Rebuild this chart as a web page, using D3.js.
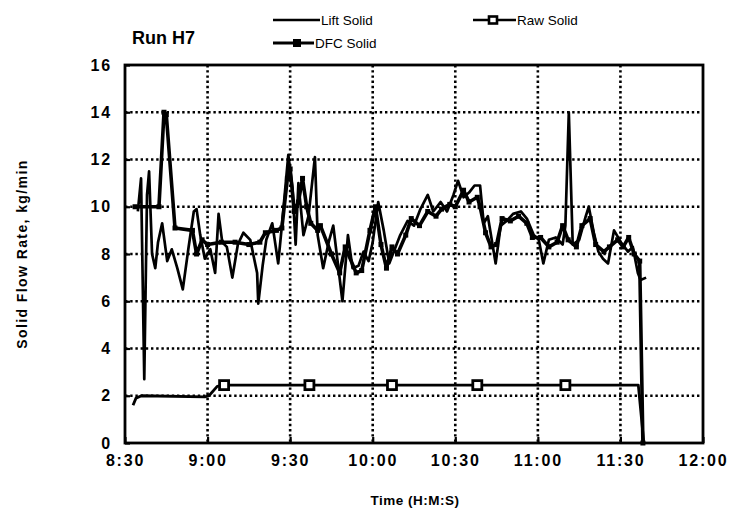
<!DOCTYPE html>
<html>
<head>
<meta charset="utf-8">
<script src="https://cdn.jsdelivr.net/npm/d3@7"></script>
<style>
  body { margin: 0; background: #fff; }
  svg { display: block; }
  .lbl { font-family: "Liberation Sans", Arial, sans-serif; font-weight: bold; }
  .leg { font-family: "Liberation Sans", Arial, sans-serif; font-size: 13.5px; }
</style>
</head>
<body>
<div id="svgBody"></div>
<script>
// time (H:M:S), value (kg/min)
var liftSolid = [
  ["8:34:40",9.8],["8:35:50",11.2],["8:37:00",2.7],["8:38:00",10.5],["8:38:45",11.5],["8:39:50",8.0],
  ["8:41:00",7.4],["8:42:00",8.5],["8:43:30",9.3],["8:45:20",7.7],["8:47:00",8.2],["8:49:00",7.4],
  ["8:51:00",6.5],["8:53:00",8.2],["8:55:00",9.8],["8:56:00",9.9],["8:57:20",8.8],["8:59:00",7.8],
  ["9:01:00",8.2],["9:02:45",7.2],["9:04:00",9.7],["9:05:20",8.5],["9:07:00",8.3],["9:09:00",7.0],
  ["9:11:00",8.4],["9:13:00",8.9],["9:15:30",8.6],["9:18:00",7.2],["9:18:25",5.9],["9:20:00",7.5],
  ["9:21:20",8.6],["9:23:30",9.3],["9:25:40",7.6],["9:27:00",9.2],["9:29:20",12.2],["9:30:50",10.8],
  ["9:32:00",8.4],["9:33:00",11.0],["9:34:50",8.8],["9:36:40",9.6],["9:39:00",12.1],["9:40:00",8.8],
  ["9:42:00",7.4],["9:44:00",8.5],["9:45:40",9.2],["9:49:00",6.0],["9:51:00",8.8],["9:52:40",7.4],
  ["9:54:50",7.5],["9:56:40",8.1],["9:58:30",7.7],["10:00:00",8.5],["10:02:00",10.2],["10:04:00",9.0],
  ["10:06:00",7.6],["10:08:00",8.2],["10:10:00",8.8],["10:12:40",9.4],["10:15:00",9.2],["10:17:20",9.9],
  ["10:20:00",10.5],["10:22:00",9.8],["10:24:40",10.2],["10:27:00",9.8],["10:29:20",10.5],["10:31:00",11.1],
  ["10:33:00",10.4],["10:35:00",10.6],["10:37:00",10.9],["10:39:00",10.9],["10:40:20",9.3],["10:41:50",9.6],
  ["10:44:40",7.6],["10:46:30",9.2],["10:48:40",9.4],["10:51:00",9.7],["10:53:50",9.8],["10:56:00",9.5],
  ["10:58:30",8.8],["11:00:20",8.6],["11:02:00",7.6],["11:04:00",8.6],["11:06:30",8.7],["11:09:00",8.4],
  ["11:10:00",9.2],["11:11:15",14.0],["11:12:40",8.4],["11:15:00",8.6],["11:17:25",9.6],["11:18:30",10.0],
  ["11:20:20",8.9],["11:22:00",8.1],["11:23:40",7.8],["11:25:30",7.6],["11:27:40",9.0],["11:30:10",8.5],
  ["11:32:45",8.1],["11:34:30",8.3],["11:36:20",7.2],["11:37:20",6.9],["11:39:20",7.0]
];

var dfcSolid = [
  ["8:33:40",10.0],["8:42:20",10.0],["8:44:10",14.0],["8:45:00",13.9],["8:48:10",9.1],["8:54:30",9.0],
  ["8:56:00",8.0],["8:58:00",8.6],["9:00:00",8.4],["9:05:00",8.5],["9:10:00",8.5],["9:15:00",8.4],
  ["9:19:00",8.5],["9:21:00",8.9],["9:25:00",9.0],["9:27:00",9.1],["9:29:00",11.2],["9:30:00",11.6],
  ["9:31:30",9.8],["9:33:00",10.2],["9:34:30",11.2],["9:36:00",10.0],["9:37:30",9.3],["9:40:00",9.0],
  ["9:41:00",9.2],["9:45:00",8.0],["9:48:00",7.2],["9:50:00",8.3],["9:54:00",7.2],["9:56:00",7.3],
  ["9:59:00",9.0],["10:01:00",10.0],["10:03:00",8.4],["10:05:00",7.4],["10:07:00",8.3],["10:09:00",8.0],
  ["10:12:00",8.8],["10:14:00",9.5],["10:17:00",9.2],["10:20:00",9.8],["10:23:00",9.6],["10:25:00",9.9],
  ["10:28:00",10.1],["10:30:00",10.0],["10:33:00",10.7],["10:35:00",10.2],["10:38:00",10.4],["10:39:00",10.0],
  ["10:41:00",8.9],["10:43:00",8.3],["10:45:00",8.4],["10:47:00",9.5],["10:50:00",9.4],["10:53:00",9.6],
  ["10:56:00",9.3],["10:58:00",8.7],["11:01:00",8.7],["11:04:00",8.3],["11:07:00",8.5],["11:09:00",9.2],
  ["11:11:00",8.6],["11:14:00",8.3],["11:16:00",9.2],["11:19:00",9.5],["11:21:00",8.4],["11:24:00",8.1],
  ["11:26:00",8.3],["11:29:00",8.6],["11:31:00",8.3],["11:33:00",8.7],["11:35:00",8.0],["11:37:00",7.7],
  ["11:38:10",0.0]
];

var rawSolid = [
  ["8:32:55",1.6],["8:34:00",1.9],["8:36:00",2.0],["8:59:00",1.95],["9:00:30",2.0],["9:03:30",2.4],
  ["9:06:00",2.45],["9:37:00",2.45],["10:07:00",2.45],["10:38:00",2.45],["11:10:00",2.45],
  ["11:36:30",2.45],["11:38:30",0.0]
];
var rawMarkerTimes = ["9:06:00","9:37:00","10:07:00","10:38:00","11:10:00"];

var xTicks = ["8:30","9:00","9:30","10:00","10:30","11:00","11:30","12:00"];
var yTicks = [0,2,4,6,8,10,12,14,16];

var W = 735, H = 513;
var margin = {top: 65, left: 125};

var parseT = d3.timeParse("%H:%M:%S");
var parseHM = d3.timeParse("%H:%M");

var svg = d3.select("#svgBody").append("svg")
  .attr("width", W).attr("height", H);

var g = svg.append("g")
  .attr("transform", "translate(" + margin.left + "," + margin.top + ")");

var x = d3.scaleTime()
  .domain([parseHM("8:30"), parseHM("12:00")])
  .range([0, 578]);
var y = d3.scaleLinear().domain([0, 16]).range([378, 0]);

var tickDates = xTicks.map(function(t){ return parseHM(t); });

// dotted grid
g.append("g").selectAll("line")
  .data(yTicks.slice(1, -1))
  .enter().append("line")
  .attr("x1", 0).attr("x2", x.range()[1])
  .attr("y1", function(d){ return y(d); }).attr("y2", function(d){ return y(d); })
  .attr("stroke", "#000").attr("stroke-width", 2.6)
  .attr("stroke-dasharray", "2.4,2.8");
g.append("g").selectAll("line")
  .data(tickDates.slice(1, -1))
  .enter().append("line")
  .attr("x1", function(d){ return x(d); }).attr("x2", function(d){ return x(d); })
  .attr("y1", 0).attr("y2", y(0))
  .attr("stroke", "#000").attr("stroke-width", 2.6)
  .attr("stroke-dasharray", "2.4,2.8");

// axes
var yAxis = g.append("g")
  .call(d3.axisLeft(y).tickValues(yTicks).tickSize(-5).tickPadding(13));
var xAxis = g.append("g")
  .attr("transform", "translate(0," + y(0) + ")")
  .call(d3.axisBottom(x).tickValues(tickDates).tickSize(-6).tickPadding(12)
    .tickFormat(d3.timeFormat("%-H:%M")));

[yAxis, xAxis].forEach(function(a){
  a.select(".domain").remove();
  a.selectAll(".tick line").attr("stroke", "#000").attr("stroke-width", 2.2);
  a.selectAll("text").attr("class", "lbl").attr("font-size", 16)
    .attr("letter-spacing", "1.8px").attr("fill", "#000");
});

// frame
g.append("rect")
  .attr("x", 0).attr("y", 0)
  .attr("width", x.range()[1]).attr("height", y(0))
  .attr("fill", "none").attr("stroke", "#000").attr("stroke-width", 2.8);

var line = d3.line()
  .x(function(d){ return x(parseT(d[0])); })
  .y(function(d){ return y(d[1]); });

g.append("path").datum(rawSolid)
  .attr("d", line).attr("fill", "none")
  .attr("stroke", "#000").attr("stroke-width", 2.8).attr("stroke-linejoin", "round");

g.selectAll("rect.rawm")
  .data(rawSolid.filter(function(d){ return rawMarkerTimes.indexOf(d[0]) >= 0; }))
  .enter().append("rect")
  .attr("x", function(d){ return x(parseT(d[0])) - 4.5; })
  .attr("y", function(d){ return y(d[1]) - 4.5; })
  .attr("width", 9).attr("height", 9)
  .attr("fill", "#fff").attr("stroke", "#000").attr("stroke-width", 2.8);

g.append("path").datum(dfcSolid)
  .attr("d", line).attr("fill", "none")
  .attr("stroke", "#000").attr("stroke-width", 3.6).attr("stroke-linejoin", "round");
g.selectAll("rect.dfcm")
  .data(dfcSolid)
  .enter().append("rect")
  .attr("x", function(d){ return x(parseT(d[0])) - 2.5; })
  .attr("y", function(d){ return y(d[1]) - 2.5; })
  .attr("width", 5).attr("height", 5)
  .attr("fill", "#000");

g.append("path").datum(liftSolid)
  .attr("d", line).attr("fill", "none")
  .attr("stroke", "#000").attr("stroke-width", 2.7).attr("stroke-linejoin", "round");

// titles
svg.append("text").attr("class", "lbl")
  .attr("x", 132).attr("y", 44).attr("font-size", 18)
  .text("Run H7");

svg.append("text").attr("class", "lbl")
  .attr("transform", "translate(27,254) rotate(-90)")
  .attr("text-anchor", "middle").attr("font-size", 14)
  .attr("letter-spacing", "1.4px")
  .text("Solid Flow Rate, kg/min");

svg.append("text").attr("class", "lbl")
  .attr("x", 415).attr("y", 505)
  .attr("text-anchor", "middle").attr("font-size", 13.5)
  .attr("letter-spacing", "0.5px")
  .text("Time (H:M:S)");

// legend
var leg = svg.append("g");
leg.append("line").attr("x1", 273).attr("x2", 320).attr("y1", 20).attr("y2", 20)
  .attr("stroke", "#000").attr("stroke-width", 2.6);
leg.append("text").attr("class", "leg").attr("x", 321).attr("y", 25).text("Lift Solid");

leg.append("line").attr("x1", 273).attr("x2", 314).attr("y1", 43).attr("y2", 43)
  .attr("stroke", "#000").attr("stroke-width", 3.2);
leg.append("rect").attr("x", 293).attr("y", 39).attr("width", 8).attr("height", 8).attr("fill", "#000");
leg.append("text").attr("class", "leg").attr("x", 315).attr("y", 48).text("DFC Solid");

leg.append("line").attr("x1", 473).attr("x2", 516).attr("y1", 20).attr("y2", 20)
  .attr("stroke", "#000").attr("stroke-width", 2.6);
leg.append("rect").attr("x", 489).attr("y", 16.5).attr("width", 8).attr("height", 7)
  .attr("fill", "#fff").attr("stroke", "#000").attr("stroke-width", 2.6);
leg.append("text").attr("class", "leg").attr("x", 517).attr("y", 25).text("Raw Solid");
</script>
</body>
</html>
